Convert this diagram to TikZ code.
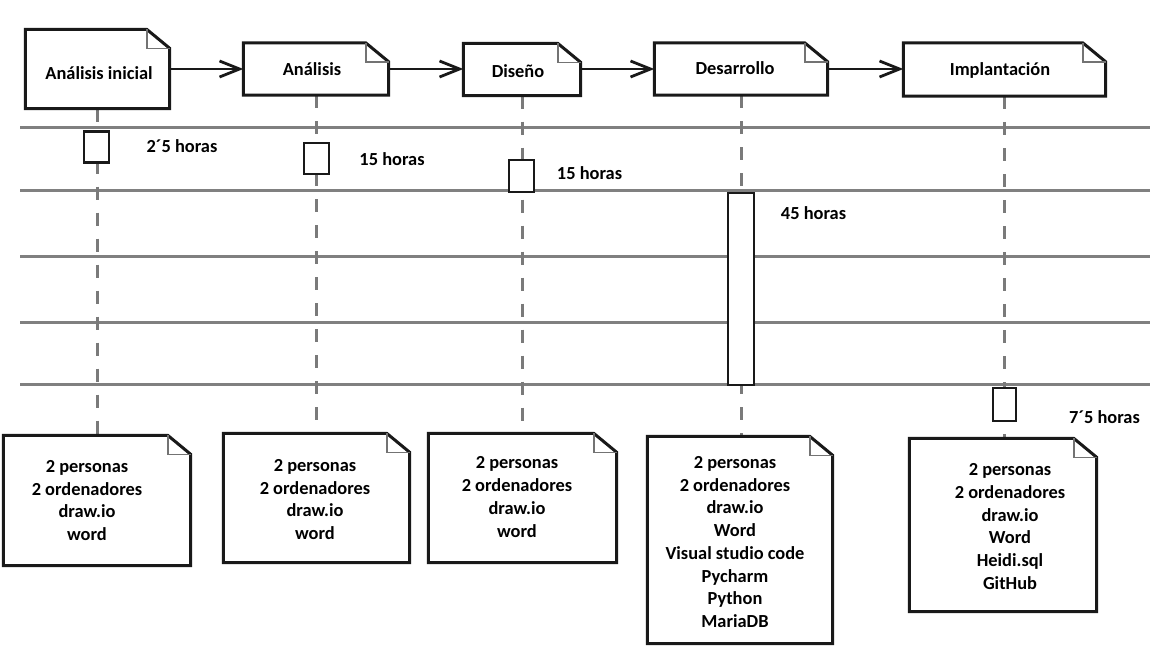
\documentclass[tikz,border=0pt]{standalone}
\usepackage{fontspec}
\setmainfont{Carlito}
\usetikzlibrary{arrows.meta,calc}
\newcommand\notepath[1]{%
  \draw[noteline] (#1.north west) -- ([xshift=-23pt]#1.north east) -- ([yshift=-19pt]#1.north east) -- (#1.south east) -- (#1.south west) -- cycle;
  \draw[foldline] ([xshift=-23pt]#1.north east) -- ([xshift=-23pt,yshift=-19pt]#1.north east) -- ([yshift=-19pt]#1.north east);}
\tikzset{
  boxbody/.style={rectangle, inner sep=0pt, fill=white},
  noteline/.style={draw=black!90, line width=3pt, line join=miter},
  foldline/.style={draw=black!55, line width=1.6pt},
  lifeline/.style={draw=black!52, line width=3pt, dash pattern=on 13pt off 13pt},
  hline/.style={draw=black!50, line width=3pt},
  actbox/.style={rectangle, draw=black!90, fill=white, line width=2.8pt, inner sep=0pt},
  lbl/.style={font=\fontsize{18.4}{22.7}\selectfont\bfseries, text=black, inner sep=0pt, anchor=base},
  notetext/.style={font=\fontsize{18.4}{22.7}\selectfont\bfseries, align=center, inner sep=0pt, text=black},
  flow/.style={draw=black!90, line width=2.8pt, -{Straight Barb[length=20pt,width=16pt]}}
}
\begin{document}
\begin{tikzpicture}[x=1pt,y=-1pt]
\useasboundingbox (0,0) rectangle (1152,648);
\fill[white] (0,0) rectangle (1152,648);
% horizontal lines
\foreach \yy in {127.5,190.5,256,322,384}{\draw[hline] (20,\yy) -- (1150,\yy);}
% top boxes
\node[boxbody, minimum width=144pt, minimum height=79pt] (b1) at (97.5,69) {};
\node[boxbody, minimum width=145pt, minimum height=52pt] (b2) at (316,69) {};
\node[boxbody, minimum width=117pt, minimum height=52pt] (b3) at (522,69.5) {};
\node[boxbody, minimum width=173pt, minimum height=52pt] (b4) at (741,69) {};
\node[boxbody, minimum width=202pt, minimum height=53pt] (b5) at (1004.5,69.5) {};
% bottom notes
\node[boxbody, minimum width=187pt, minimum height=130pt] (n1) at (97,500.5) {};
\node[boxbody, minimum width=186pt, minimum height=129pt] (n2) at (316.5,498) {};
\node[boxbody, minimum width=188pt, minimum height=129pt] (n3) at (522.5,498) {};
\node[boxbody, minimum width=185pt, minimum height=207pt] (n4) at (740,540) {};
\node[boxbody, minimum width=187pt, minimum height=173pt] (n5) at (1003,525) {};
% lifelines
\draw[lifeline] (b1.south) -- (b1.south |- n1.north);
\draw[lifeline] (b2.south) -- (b2.south |- n2.north);
\draw[lifeline] (b3.south) -- (b3.south |- n3.north);
\draw[lifeline] (b4.south) -- (b4.south |- n4.north);
\draw[lifeline] (b5.south) -- (b5.south |- n5.north);
% outlines
\notepath{b1}\notepath{b2}\notepath{b3}\notepath{b4}\notepath{b5}
\notepath{n1}\notepath{n2}\notepath{n3}\notepath{n4}\notepath{n5}
% arrows
\draw[flow] (b1.east |- 0,69) -- (b2.west |- 0,69);
\draw[flow] (b2.east |- 0,69) -- (b3.west |- 0,69);
\draw[flow] (b3.east |- 0,69) -- (b4.west |- 0,69);
\draw[flow] (b4.east |- 0,69) -- (b5.west |- 0,69);
% titles
\node[lbl] (t1) at (99,79) {Análisis inicial};
\node[lbl] (t2) at (312,75) {Análisis};
\node[lbl] (t3) at (518,77) {Diseño};
\node[lbl] (t4) at (735,74.5) {Desarrollo};
\node[lbl] (t5) at (1000,75) {Implantación};
% activation boxes
\node[actbox, minimum width=25pt, minimum height=31.5pt] (a1) at (96.5,147) {};
\node[actbox, minimum width=25pt, minimum height=31pt] (a2) at (316.5,158.5) {};
\node[actbox, minimum width=25pt, minimum height=32pt] (a3) at (521.5,176) {};
\node[actbox, minimum width=26pt, minimum height=192pt] (a4) at (741,289) {};
\node[actbox, minimum width=23pt, minimum height=33pt] (a5) at (1004.5,404.5) {};
% hours
\node[lbl] (h1) at (182,152) {2´5 horas};
\node[lbl] (h2) at (392,165) {15 horas};
\node[lbl] (h3) at (589.5,179) {15 horas};
\node[lbl] (h4) at (813.5,219) {45 horas};
\node[lbl] (h5) at (1104.5,423) {7´5 horas};
% note texts
\node[notetext] (x1) at (87,500.5) {2 personas\\2 ordenadores\\draw.io\\word};
\node[notetext] (x2) at (315,499.5) {2 personas\\2 ordenadores\\draw.io\\word};
\node[notetext] (x3) at (517,497) {2 personas\\2 ordenadores\\draw.io\\word};
\node[notetext] (x4) at (735,542) {2 personas\\2 ordenadores\\draw.io\\Word\\Visual studio code\\Pycharm\\Python\\MariaDB};
\node[notetext] (x5) at (1010,526.5) {2 personas\\2 ordenadores\\draw.io\\Word\\Heidi.sql\\GitHub};
\end{tikzpicture}
\end{document}
